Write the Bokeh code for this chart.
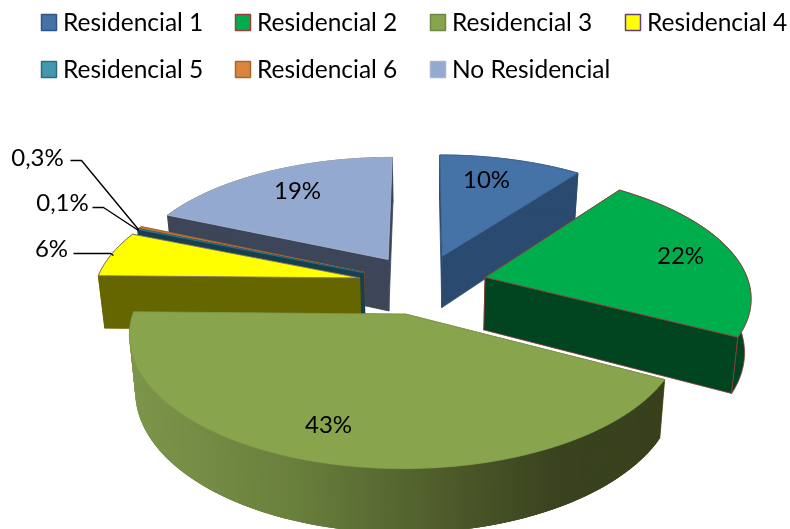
import math
from bokeh.plotting import figure
from bokeh.embed import file_html
from bokeh.resources import INLINE
from bokeh.core.properties import value
from bokeh.models import Range1d

categories = ["Residencial 1", "Residencial 2", "Residencial 3", "Residencial 4",
              "Residencial 5", "Residencial 6", "No Residencial"]
shares = [10.2, 22.45, 42.65, 5.9, 0.1, 0.3, 18.4]
labels = ["10%", "22%", "43%", "6%", "0,1%", "0,3%", "19%"]

top_colors = ["#4572a7", "#00ad4d", "#88a44c", "#ffff00", "#4198af", "#c8743a", "#93a9cf"]
side_colors = ["#2b4a70", "#004520", "#55662f", "#666600", "#17404f", "#8a4f22", "#3d4559"]
edge_colors = ["#3d6596", "#8c3b3b", "#7f9a48", "#7a6a80", "#2f6b7d", "#a8642b", "#a9b6d3"]
legend_edges = ["#2f5583", "#a23c3c", "#71893f", "#5c4080", "#2c6b7d", "#a8642b", "#a5b3d1"]

label_pos = [(486, 178), (680, 254), (328, 423), (51, 247), (62, 201), (37, 156), (297, 189)]
leaders = [([73, 110, 113], [253, 253, 255]),
           ([92, 103, 138], [207, 207, 230]),
           ([70, 81, 138], [160, 160, 229])]
legend_x = [41, 235, 430, 625, 41, 235, 430]
legend_y = [22, 22, 22, 22, 69, 69, 69]

FONT = "Lato"
CX, CY, A0, B0, P, EXPLODE, DEPTH, SHRINK = 422, 283.5, 264, 123, 0.142, 0.245, 53, 0.98

p = figure(width=790, height=529, output_backend="svg", toolbar_location=None,
           x_range=Range1d(0, 790), y_range=Range1d(529, 0), min_border=0,
           background_fill_color="white", border_fill_color="white",
           styles={"position": "fixed", "left": "0", "top": "0"})
p.axis.visible = False
p.grid.visible = False
p.outline_line_color = None


def project(mid, th):
    m, t = math.radians(mid), math.radians(th)
    X = EXPLODE * math.sin(m) + math.sin(t)
    Y = EXPLODE * math.cos(m) + math.cos(t)
    k = 1 / (1 + P * Y)
    return CX + A0 * X * k, CY - B0 * Y * k, k


def apex(mid):
    m = math.radians(mid)
    X, Y = EXPLODE * math.sin(m), EXPLODE * math.cos(m)
    k = 1 / (1 + P * Y)
    return CX + A0 * X * k, CY - B0 * Y * k, k


def drop(pt):
    return CX + (pt[0] - CX) * SHRINK, pt[1] + DEPTH * pt[2]


def poly(pts, fill, line, lw=0.8):
    p.patch([q[0] for q in pts], [q[1] for q in pts], fill_color=fill,
            line_color=line, line_width=lw)


def lerp(stops, f):
    for (f0, c0), (f1, c1) in zip(stops, stops[1:]):
        if f <= f1:
            t = (f - f0) / (f1 - f0)
            return "#%02x%02x%02x" % tuple(round(a + (b - a) * t) for a, b in zip(c0, c1))
    return "#%02x%02x%02x" % stops[-1][1]


GRAD = [(0.0, (0x7c, 0x96, 0x4b)), (0.3, (0x6a, 0x80, 0x3d)), (0.6, (0x4d, 0x5a, 0x2a)),
        (0.8, (0x3a, 0x43, 0x1f)), (1.0, (0x38, 0x40, 0x1c))]

total = sum(shares)
spans, acc = [], 0.0
for s in shares:
    a0 = acc / total * 360
    acc += s
    spans.append((a0, acc / total * 360))


def draw(i):
    t0, t1 = spans[i]
    mid = (t0 + t1) / 2
    ap = apex(mid)
    n = max(2, int((t1 - t0) * 1.5))
    ths = [t0 + (t1 - t0) * j / n for j in range(n + 1)]
    arc = [project(mid, t) for t in ths]
    side, edge = side_colors[i], edge_colors[i]
    line = edge if i == 1 else side
    # radial faces
    poly([ap, arc[0], drop(arc[0]), drop(ap)], side, line)
    poly([ap, arc[-1], drop(arc[-1]), drop(ap)], side, line)
    # outer face
    if i == 2:
        # strips painted right-to-left, each overlapping the next so no seams show
        for j in range(len(arc) - 1):
            a, b = arc[j], arc[j + 1]
            e = arc[min(j + 3, len(arc) - 1)]
            f = ((a[0] + b[0]) / 2 - 129) / (663 - 129)
            c = lerp(GRAD, f)
            poly([a, e, drop(e), drop(a)], c, None)
    else:
        poly(arc + [drop(q) for q in reversed(arc)], side, line)
    # top face
    poly([ap] + arc, top_colors[i], edge)


for i in [0, 6, 5, 4, 3, 1, 2]:
    draw(i)

for xs, ys in leaders:
    p.line(xs, ys, line_color="black", line_width=1.4)

p.text([q[0] for q in label_pos], [q[1] for q in label_pos], text=labels,
       text_font=value(FONT), text_font_size="24px", text_color="black",
       text_align="center", text_baseline="middle")

for i, name in enumerate(categories):
    p.rect([legend_x[i] + 7.5], [legend_y[i]], width=15, height=16,
           fill_color=top_colors[i] if i != 5 else "#db843d",
           line_color=legend_edges[i], line_width=1.5)
p.text([x + 21.5 for x in legend_x], [y - 1 for y in legend_y], text=categories,
       text_font=value(FONT), text_font_size="24.5px", text_color="black",
       text_align="left", text_baseline="middle")

open("out.html", "w").write(file_html(p, INLINE))
